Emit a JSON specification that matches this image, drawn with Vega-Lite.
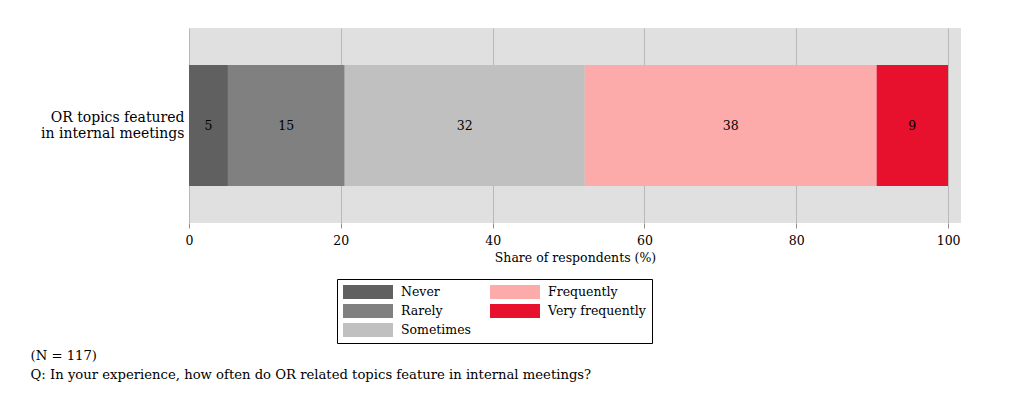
{
  "$schema": "https://vega.github.io/schema/vega-lite/v6.json",
  "width": 772,
  "height": 195,
  "autosize": {"type": "none"},
  "padding": {"left": 189, "top": 28, "right": 53, "bottom": 196},
  "background": "white",
  "config": {
    "font": "DejaVu Serif",
    "view": {"fill": "#e0e0e0", "stroke": null}
  },
  "data": {
    "values": [
      {"item": "OR topics featured|in internal meetings", "response": "Never", "rank": 1, "share": 5.13},
      {"item": "OR topics featured|in internal meetings", "response": "Rarely", "rank": 2, "share": 15.38},
      {"item": "OR topics featured|in internal meetings", "response": "Sometimes", "rank": 3, "share": 31.62},
      {"item": "OR topics featured|in internal meetings", "response": "Frequently", "rank": 4, "share": 38.46},
      {"item": "OR topics featured|in internal meetings", "response": "Very frequently", "rank": 5, "share": 9.40}
    ]
  },
  "title": {
    "text": ["(N = 117)", "Q: In your experience, how often do OR related topics feature in internal meetings?"],
    "orient": "bottom",
    "anchor": "start",
    "frame": "bounds",
    "fontSize": 13.2,
    "fontWeight": "normal",
    "color": "black",
    "lineHeight": 19,
    "offset": 6,
    "dx": -10
  },
  "encoding": {
    "y": {
      "field": "item",
      "type": "nominal",
      "scale": {"paddingInner": 0, "paddingOuter": 0.306},
      "axis": {
        "title": null,
        "ticks": false,
        "domain": false,
        "labelFontSize": 14,
        "labelColor": "black",
        "labelPadding": 5,
        "labelLineHeight": 16,
        "labelOffset": -8,
        "labelLimit": 300,
        "labelExpr": "split(datum.label, '|')"
      }
    }
  },
  "layer": [
    {
      "mark": {"type": "bar"},
      "encoding": {
        "x": {
          "field": "share",
          "type": "quantitative",
          "stack": "zero",
          "scale": {"domain": [0, 101.7], "nice": false, "zero": false},
          "axis": {
            "values": [0, 20, 40, 60, 80, 100],
            "grid": true,
            "gridColor": "#b8b8b8",
            "gridWidth": 1,
            "domain": false,
            "tickColor": "#909090",
            "tickSize": 5,
            "labelFlush": false,
            "labelFontSize": 12.5,
            "labelColor": "black",
            "labelPadding": 6,
            "title": "Share of respondents (%)",
            "titleFontSize": 12.5,
            "titleFontWeight": "normal",
            "titleColor": "black",
            "titlePadding": 5
          }
        },
        "color": {
          "field": "response",
          "type": "nominal",
          "scale": {
            "domain": ["Never", "Rarely", "Sometimes", "Frequently", "Very frequently"],
            "range": ["#606060", "#808080", "#c0c0c0", "#fdaaab", "#e8112d"]
          },
          "legend": {
            "orient": "none",
            "legendX": 148,
            "legendY": 251,
            "columns": 2,
            "title": null,
            "strokeColor": "black",
            "fillColor": "white",
            "padding": 6,
            "symbolType": "M-3.57,-1H3.57V1H-3.57Z",
            "symbolSize": 196,
            "symbolOffset": 18,
            "labelOffset": 26,
            "symbolStrokeWidth": 0,
            "symbolOpacity": 1,
            "labelFontSize": 12.5,
            "labelColor": "black",
            "columnPadding": 18,
            "rowPadding": 5
          }
        },
        "order": {"field": "rank", "type": "quantitative"}
      }
    },
    {
      "mark": {"type": "text", "fontSize": 12.5, "color": "black"},
      "encoding": {
        "x": {"field": "share", "type": "quantitative", "stack": "zero", "bandPosition": 0.5},
        "text": {"field": "share", "type": "quantitative", "format": ".0f"},
        "detail": {"field": "response"},
        "order": {"field": "rank", "type": "quantitative"}
      }
    }
  ]
}
